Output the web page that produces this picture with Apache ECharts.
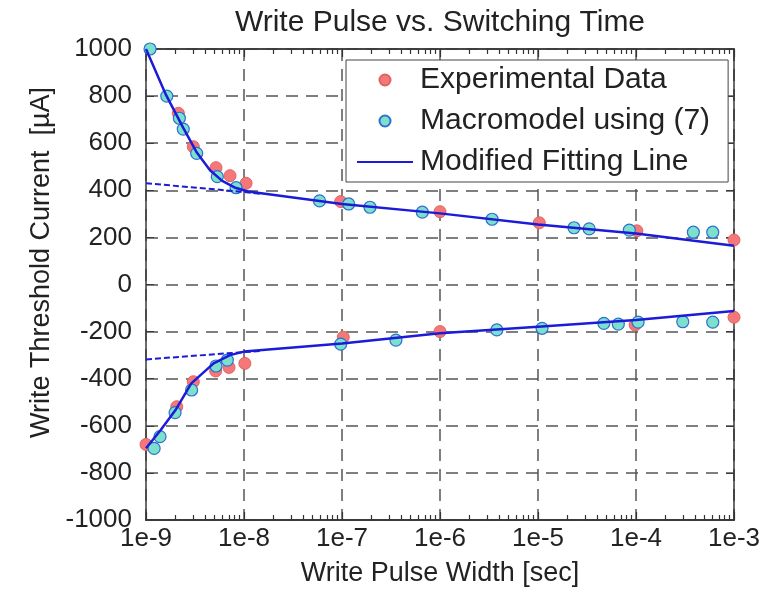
<!DOCTYPE html>
<html lang="en">
<head>
  <meta charset="UTF-8">
  <title>Write Pulse vs. Switching Time</title>
  <script src="https://cdn.jsdelivr.net/npm/echarts@6/dist/echarts.min.js"></script>
  <style>
    html, body { margin: 0; padding: 0; background: #fff; }
    #chart { width: 778px; height: 598px; }
  </style>
</head>
<body>
  <div id="chart"></div>
</body>
</html>
<script>
  // 数据：[脉冲宽度 sec, 电流 µA]
  var expUpper = [[2.14e-9, 727], [3.04e-9, 585], [5.18e-9, 496], [7.2e-9, 462], [1.05e-8, 430],
    [9.7e-8, 352], [1e-6, 309], [1.03e-5, 262], [1.02e-4, 228], [1e-3, 189]]
  var expLower = [[1e-9, -679], [2.06e-9, -519], [3.04e-9, -413], [5.14e-9, -367], [7.03e-9, -352],
    [1.02e-8, -335], [1.03e-7, -224], [1e-6, -200], [9.8e-5, -172], [1e-3, -139]]

  var macroUpper = [[1.1e-9, 1000], [1.63e-9, 800], [2.19e-9, 706], [2.4e-9, 660], [3.29e-9, 557],
    [5.34e-9, 458], [8.3e-9, 411], [5.9e-8, 355], [1.17e-7, 342], [1.93e-7, 328], [6.6e-7, 307],
    [3.4e-6, 277], [2.33e-5, 241], [3.33e-5, 236], [8.55e-5, 231], [3.85e-4, 222], [6.07e-4, 222]]
  var macroLower = [[1.21e-9, -696], [1.39e-9, -646], [1.98e-9, -544], [2.92e-9, -448], [5.18e-9, -346],
    [6.76e-9, -321], [9.7e-8, -253], [3.55e-7, -236], [3.8e-6, -193], [1.1e-5, -186], [4.7e-5, -165],
    [6.6e-5, -168], [1.05e-4, -160], [3e-4, -158], [6.07e-4, -160]]

  var fitUpper = [[1e-9, 1000], [1.6e-9, 805], [2.4e-9, 665], [3.3e-9, 560], [4.5e-9, 485], [6e-9, 440],
    [8e-9, 412], [1.1e-8, 395], [1e-7, 342], [1e-6, 302], [1e-5, 255], [1e-4, 217], [1e-3, 165]]
  var fitLower = [[1e-9, -695], [1.4e-9, -620], [2e-9, -533], [2.9e-9, -420], [4.9e-9, -335],
    [7.2e-9, -300], [1e-8, -285], [1e-7, -251], [1e-6, -207], [1e-5, -179], [1e-4, -151], [1e-3, -113]]
  var dashUpper = [[1e-9, 430], [1e-8, 393], [1.5e-8, 385]]
  var dashLower = [[1e-9, -318], [1e-8, -287], [1.5e-8, -282]]

  var xMinExp = -9, xMaxExp = -3
  var yMin = -1000, yMax = 1000, yStep = 200

  // 对数轴的次刻度 2..9（以指数表示，用于装饰轴）
  var minorTickExp = []
  for (var e = xMinExp; e < xMaxExp; e++) {
    for (var m = 2; m <= 9; m++) minorTickExp.push(e + Math.log10(m))
  }

  var font = 'Liberation Sans, Arial, sans-serif'
  var boxColor = '#3a3a3a'
  var blue = '#1b1bd8'
  var gridLine = { show: true, lineStyle: { type: [12, 8], color: '#555', width: 1.5 } }

  var chart = echarts.init(document.getElementById('chart'))

  // 只画刻度的装饰轴（指数坐标，与主对数轴对齐）
  function tickAxis(pos, len, custom) {
    var a = {
      type: 'value', min: xMinExp, max: xMaxExp, interval: 1, position: pos,
      axisLine: { show: true, onZero: false, lineStyle: { color: boxColor, width: 1.5 } },
      axisTick: { show: true, inside: true, length: len, lineStyle: { color: '#333', width: 1.2 } },
      axisLabel: { show: false },
      splitLine: { show: false }
    }
    if (custom) a.axisTick.customValues = custom
    return a
  }

  chart.setOption({
    animation: false,
    backgroundColor: '#fff',
    title: {
      text: 'Write Pulse vs. Switching Time',
      left: 440, top: 8, textAlign: 'center', padding: 0,
      textStyle: { fontFamily: font, fontSize: 30, fontWeight: 'normal', color: '#222' }
    },
    legend: {
      orient: 'vertical', left: 346, top: 60,
      padding: [5, 18, 5, 10], itemGap: 11, itemWidth: 56, itemHeight: 11,
      borderColor: '#444', borderWidth: 1, backgroundColor: '#fff',
      textStyle: { fontFamily: font, fontSize: 30, color: '#222', padding: [0, 0, 0, 2] },
      data: [
        'Experimental Data',
        'Macromodel using (7)',
        { name: 'Modified Fitting Line', itemStyle: { opacity: 0 } }
      ],
      selectedMode: false
    },
    grid: { left: 146, right: 44, top: 49, bottom: 78 },
    xAxis: [
      {
        type: 'log', logBase: 10, min: Math.pow(10, xMinExp), max: Math.pow(10, xMaxExp), interval: 1,
        position: 'bottom',
        name: 'Write Pulse Width [sec]', nameLocation: 'middle', nameGap: 40,
        nameTextStyle: { fontFamily: font, fontSize: 27, color: '#222' },
        axisLine: { show: true, onZero: false, lineStyle: { color: boxColor, width: 1.5 } },
        axisTick: { show: false },
        axisLabel: {
          show: true, margin: 6, fontFamily: font, fontSize: 26, color: '#222',
          formatter: function (v) { return '1e' + Math.round(Math.log10(v)) }
        },
        splitLine: gridLine
      },
      tickAxis('bottom', 8),
      tickAxis('bottom', 5, minorTickExp),
      tickAxis('top', 8),
      tickAxis('top', 5, minorTickExp)
    ],
    yAxis: [
      {
        type: 'value', min: yMin, max: yMax, interval: yStep, position: 'left',
        name: 'Write Threshold Current  [µA]', nameLocation: 'middle', nameGap: 84,
        nameTextStyle: { fontFamily: font, fontSize: 27, color: '#222', padding: [0, 0, 0, 44] },
        axisLine: { show: true, onZero: false, lineStyle: { color: boxColor, width: 1.5 } },
        axisTick: { show: true, inside: true, length: 8, lineStyle: { color: boxColor } },
        axisLabel: {
          margin: 14, fontFamily: font, fontSize: 26, color: '#222',
          formatter: function (v) { return String(v) }
        },
        splitLine: gridLine
      },
      {
        type: 'value', min: yMin, max: yMax, interval: yStep, position: 'right',
        axisLine: { show: true, onZero: false, lineStyle: { color: boxColor, width: 1.5 } },
        axisTick: { show: true, inside: true, length: 8, lineStyle: { color: boxColor } },
        axisLabel: { show: false },
        splitLine: { show: false }
      }
    ],
    series: [
      {
        name: 'Experimental Data', type: 'scatter', symbol: 'circle', symbolSize: 12, z: 2,
        itemStyle: { color: '#f4787a', borderColor: '#e2625c', borderWidth: 1, opacity: 1 },
        data: expUpper.concat(expLower)
      },
      {
        name: 'Macromodel using (7)', type: 'scatter', symbol: 'circle', symbolSize: 12, z: 3,
        itemStyle: { color: '#7ce0cb', borderColor: '#2e6fd2', borderWidth: 1.2, opacity: 1 },
        data: macroUpper.concat(macroLower)
      },
      {
        name: 'Modified Fitting Line', type: 'line', showSymbol: false, symbol: 'none', z: 5,
        lineStyle: { color: blue, width: 2.5 }, itemStyle: { color: blue },
        data: fitUpper
      },
      {
        name: 'Modified Fitting Line', type: 'line', showSymbol: false, symbol: 'none', z: 5,
        lineStyle: { color: blue, width: 2.5 }, itemStyle: { color: blue },
        data: fitLower
      },
      {
        name: 'fit extension upper', type: 'line', showSymbol: false, symbol: 'none', z: 4,
        lineStyle: { color: blue, width: 2, type: [6, 3] },
        data: dashUpper
      },
      {
        name: 'fit extension lower', type: 'line', showSymbol: false, symbol: 'none', z: 4,
        lineStyle: { color: blue, width: 2, type: [6, 3] },
        data: dashLower
      }
    ]
  })
</script>
